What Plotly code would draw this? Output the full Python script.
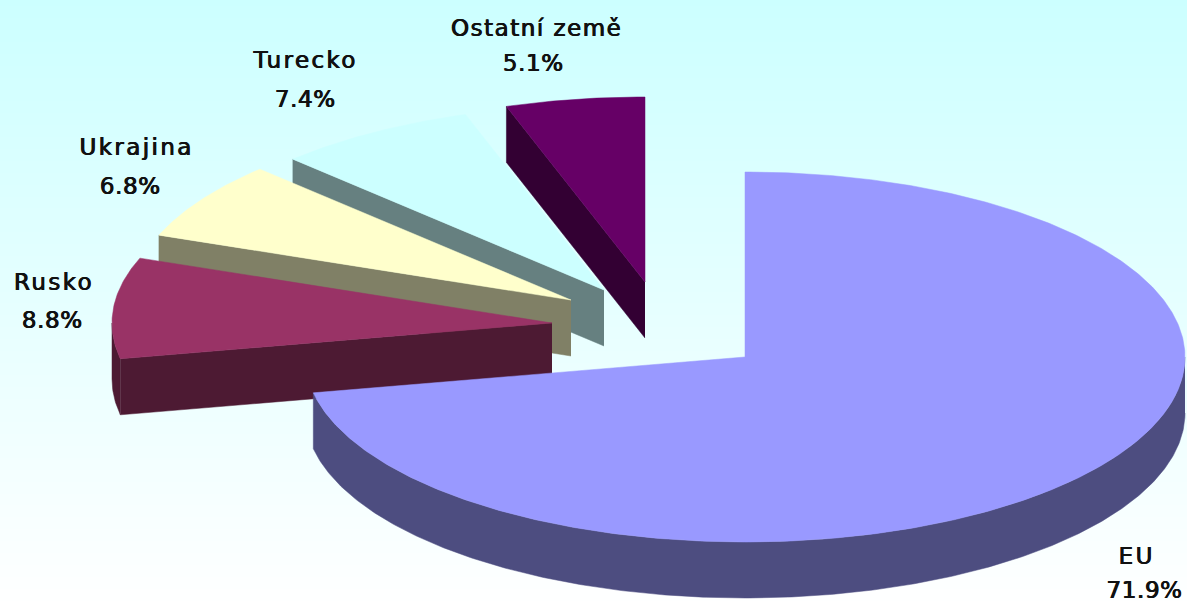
import numpy as np
import plotly.graph_objects as go

# data
categories = ["EU", "Rusko", "Ukrajina", "Turecko", "Ostatní země"]
values = [71.9, 8.8, 6.8, 7.4, 5.1]

# style
top_colors = ["#9999FF", "#993366", "#FFFFCC", "#CCFFFF", "#660066"]
side_colors = ["#4D4D80", "#4D1A33", "#808066", "#668080", "#330033"]
apex_x = [745, 552, 571, 604, 645]
apex_y = [357, 323, 300, 290, 282]
RX, RY, DEPTH = 440, 185, 56
label_x = [1136, 54, 136, 305, 536]
name_y = [556, 282, 147, 60, 28]
value_x = [1144, 52, 130, 305, 533]
value_y = [590, 320, 186, 99, 63]
FONT = dict(family="DejaVu Sans", size=23, color="#111111",
            shadow="0.5px 0 0 #111111, -0.4px 0 0 #111111")

fig = go.Figure()

# background gradient
fig.add_trace(go.Heatmap(x=[0, 1187], y=[0, 606], z=[[0, 0], [1, 1]], zsmooth="best",
                         colorscale=[[0, "#CCFFFF"], [1, "#FFFFFF"]], showscale=False,
                         hoverinfo="skip"))


def rim(cx, cy, t0, t1, dy=0.0):
    t = np.radians(np.linspace(t0, t1, max(2, int(abs(t1 - t0) * 2))))
    return cx + RX * np.sin(t), cy - RY * np.cos(t) + dy


def poly(x, y, color):
    fig.add_trace(go.Scatter(x=list(x), y=list(y), mode="lines", fill="toself", fillcolor=color,
                             line=dict(width=0.5, color=color), hoverinfo="skip", showlegend=False))


edges = np.concatenate([[0], np.cumsum(values)]) / sum(values) * 360
order = [4, 3, 2, 1, 0]  # painted back to front
for i in order:
    t0, t1 = edges[i], edges[i + 1]
    cx, cy = apex_x[i], apex_y[i]
    # outer wall (front half only), then the visible radial wall, then the top
    a, b = max(t0, 90), min(t1, 270)
    if b > a:
        x1, y1 = rim(cx, cy, a, b)
        x2, y2 = rim(cx, cy, b, a, DEPTH)
        poly(np.concatenate([x1, x2]), np.concatenate([y1, y2]), side_colors[i])
    if t0 > 0:
        ex, ey = rim(cx, cy, t0, t0 + 0.001)
        poly([cx, ex[0], ex[0], cx], [cy, ey[0], ey[0] + DEPTH, cy + DEPTH], side_colors[i])
    xr, yr = rim(cx, cy, t0, t1)
    poly(np.concatenate([[cx], xr, [cx]]), np.concatenate([[cy], yr, [cy]]), top_colors[i])

for i, c in enumerate(categories):
    fig.add_annotation(x=label_x[i], y=name_y[i], text=c, showarrow=False, font=FONT)
    fig.add_annotation(x=value_x[i], y=value_y[i], text=f"{values[i]:.1f}%", showarrow=False, font=FONT)

fig.update_layout(
    width=1187, height=606, margin=dict(l=0, r=0, t=0, b=0),
    paper_bgcolor="#FFFFFF", plot_bgcolor="#FFFFFF", showlegend=False,
    xaxis=dict(range=[0, 1187], visible=False, fixedrange=True),
    yaxis=dict(range=[606, 0], visible=False, fixedrange=True),
)
post = """
document.body.style.margin='0';
document.documentElement.style.overflow='hidden';
document.querySelectorAll('.annotation-text').forEach(function(t){
  var s = t.textContent;
  t.style.letterSpacing = s.endsWith('%') ? '0.6px' : (s.length > 8 ? '1.5px' : '2.4px');
});
"""
fig.write_html("out.html", config={"displayModeBar": False}, post_script=post)
